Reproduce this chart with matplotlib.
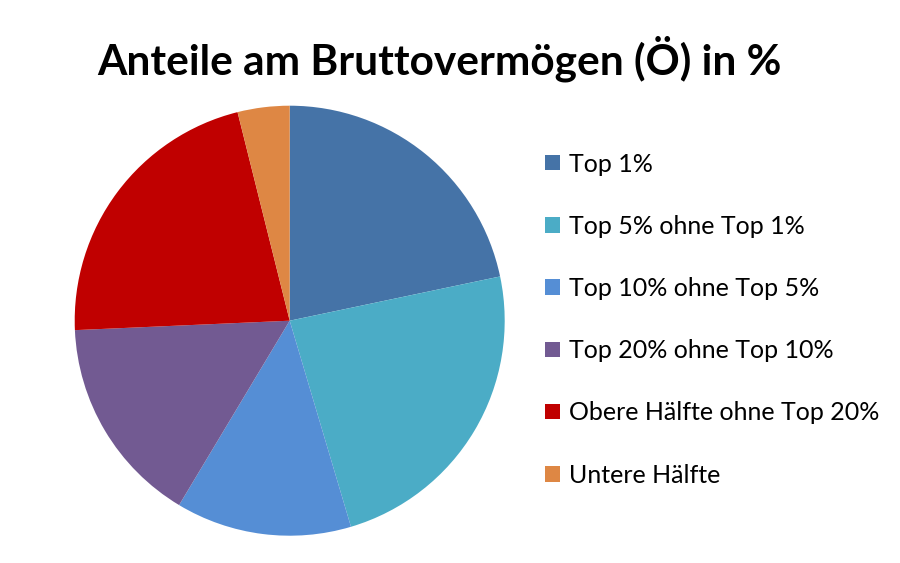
import matplotlib
matplotlib.use("Agg")
import matplotlib.pyplot as plt
from matplotlib.patches import Patch

categories = ["Top 1%", "Top 5% ohne Top 1%", "Top 10% ohne Top 5%",
              "Top 20% ohne Top 10%", "Obere Hälfte ohne Top 20%", "Untere Hälfte"]
values = [21.7, 23.7, 13.2, 15.7, 21.8, 3.9]
colors = ["#4573A7", "#4BACC6", "#558ED5", "#725A92", "#C00000", "#DE8744"]
title = "Anteile am Bruttovermögen (Ö) in %"

plt.rcParams['font.family'] = ['Lato', 'DejaVu Sans']

W, H = 900, 563
fig = plt.figure(figsize=(W / 100, H / 100), dpi=100)
cx, cy, r = 289.7, 320.7, 215
ax = fig.add_axes([(cx - r) / W, (H - cy - r) / H, 2 * r / W, 2 * r / H])
ax.pie(values, colors=colors, startangle=90, counterclock=False,
       wedgeprops=dict(linewidth=0, antialiased=True))
ax.set_xlim(-1, 1)
ax.set_ylim(-1, 1)
ax.axis("off")

fig.text(439 / W, 1 - 59 / H, title, ha="center", va="center",
         fontsize=30.5, fontweight="bold", color="black")

handles = [Patch(facecolor=c, edgecolor="none") for c in colors]
fig.legend(handles, categories, loc="upper left",
           bbox_to_anchor=(545 / W, 1 - 152.5 / H), frameon=False,
           fontsize=18, handlelength=0.58, handleheight=0.58, handletextpad=0.38,
           labelspacing=1.57, borderaxespad=0, borderpad=0)

fig.savefig("out.png", dpi=100, facecolor="white")
